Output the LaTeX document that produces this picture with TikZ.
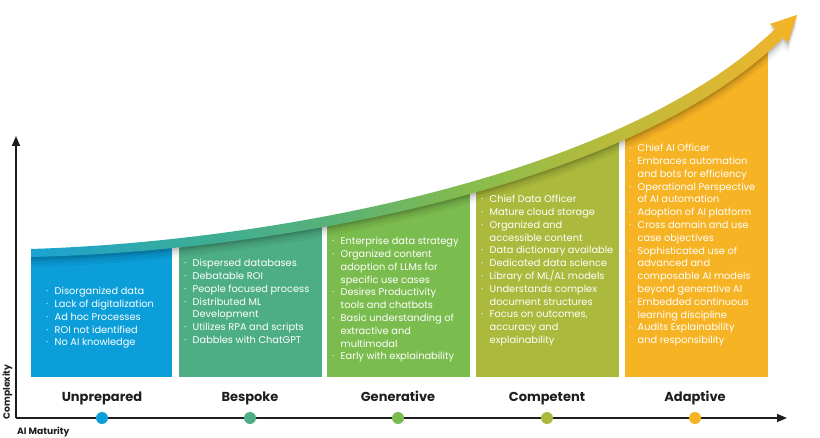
\documentclass[tikz,border=0pt]{standalone}
\usepackage{fontspec}
\setmainfont{Poppins}
\usetikzlibrary{arrows.meta}
\definecolor{cBlue}{HTML}{0B9ED9}
\definecolor{cTeal}{HTML}{4DAE86}
\definecolor{cGreen}{HTML}{7BBC4E}
\definecolor{cOlive}{HTML}{ABBA3C}
\definecolor{cOrange}{HTML}{F6B324}
\definecolor{cText}{HTML}{1E1E1E}
\definecolor{bA}{HTML}{1AA2D4}
\definecolor{bB}{HTML}{36AC9E}
\definecolor{bC}{HTML}{55B178}
\definecolor{bD}{HTML}{88BC4C}
\definecolor{bE}{HTML}{BDBB3A}
\definecolor{bF}{HTML}{E9B52E}
\definecolor{bG}{HTML}{F6B324}
\pgfdeclarehorizontalshading{bandshade}{100bp}{color(0bp)=(bA); color(25bp)=(bA); color(34.3bp)=(bB); color(44.1bp)=(bC); color(53.9bp)=(bD); color(63.6bp)=(bE); color(73.1bp)=(bF); color(75bp)=(bG); color(100bp)=(bG)}
\newcommand\bul{\makebox[8.5pt][l]{·}}
\newcommand\cnt{\hspace*{8.5pt}}
\tikzset{
  bandpath/.style={insert path={(31,249) .. controls (281,241) and (625,174) .. (775,29) -- (770,24) -- (797,15) -- (788,43) -- (783,38) .. controls (633,186) and (281,251) .. (31,257) -- cycle}},
  items/.style={anchor=north west, inner sep=0pt, text=white, align=left, font=\fontsize{9.8}{12.8}\selectfont},
  stage/.style={anchor=base, text=cText, font=\bfseries\fontsize{13}{15}\selectfont},
  dot/.style={circle, minimum size=12pt, inner sep=0pt},
  axis/.style={line width=1.3pt, cText, -{Triangle[length=10pt,width=8pt]}},
  axlabel/.style={text=cText, font=\bfseries\fontsize{9.2}{10}\selectfont, inner sep=0pt}
}
\begin{document}
\begin{tikzpicture}[x=1pt,y=-1pt]
\useasboundingbox (0,0) rectangle (820,438);
% columns
\begin{scope}
\clip (20,253) -- (31,253) .. controls (281,245.5) and (629,180) .. (779,34) -- (820,34) -- (820,438) -- (20,438) -- cycle;
\fill[cBlue] (31,0) rectangle (172,377);
\fill[cTeal] (179,0) rectangle (322,377);
\fill[cGreen] (327,0) rectangle (470,377);
\fill[cOlive] (476,0) rectangle (619,377);
\fill[cOrange] (625,0) rectangle (768,377);
\end{scope}
% band shadow
\begin{scope}[shift={(0,2)}]\fill[black,opacity=.10,bandpath];\end{scope}
\begin{scope}[shift={(0,4)}]\fill[black,opacity=.08,bandpath];\end{scope}
\begin{scope}[shift={(0,7)}]\fill[black,opacity=.06,bandpath];\end{scope}
\begin{scope}[shift={(0,10)}]\fill[black,opacity=.04,bandpath];\end{scope}
% band
\shade[shading=bandshade,bandpath];
% texts
\node[items] (t1) at (46,287) {\bul Disorganized data\\\bul Lack of digitalization\\\bul Ad hoc Processes\\\bul ROI not identified\\\bul No AI knowledge};
\node[items] (t2) at (184,259) {\bul Dispersed databases\\\bul Debatable ROI\\\bul People focused process\\\bul Distributed ML\\\cnt Development\\\bul Utilizes RPA and scripts\\\bul Dabbles with ChatGPT};
\node[items] (t3) at (332,237) {\bul Enterprise data strategy\\\bul Organized content\\\cnt adoption of LLMs for\\\cnt specific use cases\\\bul Desires Productivity\\\cnt tools and chatbots\\\bul Basic understanding of\\\cnt extractive and\\\cnt multimodal\\\bul Early with explainability};
\node[items] (t4) at (481,195) {\bul Chief Data Officer\\\bul Mature cloud storage\\\bul Organized and\\\cnt accessible content\\\bul Data dictionary available\\\bul Dedicated data science\\\bul Library of ML/AL models\\\bul Understands complex\\\cnt document structures\\\bul Focus on outcomes,\\\cnt accuracy and\\\cnt explainability};
\node[items] (t5) at (629,144) {\bul Chief AI Officer\\\bul Embraces automation\\\cnt and bots for efficiency\\\bul Operational Perspective\\\cnt of AI automation\\\bul Adoption of AI platform\\\bul Cross domain and use\\\cnt case objectives\\\bul Sophisticated use of\\\cnt advanced and\\\cnt composable AI models\\\cnt beyond generative AI\\\bul Embedded continuous\\\cnt learning discipline\\\bul Audits Explainability\\\cnt and responsibility};
% stage labels
\node[stage] (s1) at (102,402) {Unprepared};
\node[stage] (s2) at (250,402) {Bespoke};
\node[stage] (s3) at (398,402) {Generative};
\node[stage] (s4) at (547,402) {Competent};
\node[stage] (s5) at (695,402) {Adaptive};
% axes
\coordinate (O) at (16,418);
\coordinate (Ytip) at (16,136);
\coordinate (Xtip) at (787,418);
\draw[axis] (O) -- (Ytip);
\draw[axis] (O) -- (Xtip);
\node[axlabel, rotate=90] (ylab) at (7.5,392) {Complexity};
\node[axlabel, anchor=west] (xlab) at (17,432) {AI Maturity};
% dots
\node[dot, fill=cBlue] (d1) at (102,418) {};
\node[dot, fill=cTeal] (d2) at (250,418) {};
\node[dot, fill=cGreen] (d3) at (398,418) {};
\node[dot, fill=cOlive] (d4) at (547,418) {};
\node[dot, fill=cOrange] (d5) at (695,418) {};
\end{tikzpicture}
\end{document}
